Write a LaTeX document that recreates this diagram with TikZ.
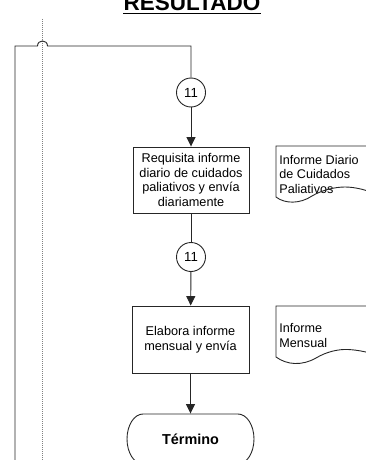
\documentclass[tikz,border=0pt]{standalone}
\usepackage{fontspec}
\setmainfont{Liberation Sans}
\usetikzlibrary{arrows.meta}
\begin{document}
\begin{tikzpicture}[x=1pt,y=-1pt, line width=0.9pt, color=black!85,
  every node/.style={text=black},
  box/.style={draw, minimum width=116pt, minimum height=66pt, inner sep=0pt, align=center, font=\fontsize{12.7}{14.6}\selectfont},
  conn/.style={draw, circle, minimum size=29pt, inner sep=0pt, font=\fontsize{13.2}{15}\selectfont},
  arr/.style={-{Triangle[length=9.5pt,width=9pt]}},
  doctext/.style={anchor=base west, align=left, inner sep=0pt, font=\fontsize{12.6}{14.6}\selectfont},
  docshape/.style={draw},
]
\useasboundingbox (0,0) rectangle (365,460);

% title
\node (title) [anchor=base, inner sep=0pt, font=\fontsize{22.5}{27}\selectfont\bfseries] at (192,10.5) {RESULTADO};
\draw[line width=1.5pt, black] ([yshift=-3pt]title.base west) -- ([yshift=-3pt]title.base east);

% dotted lane line
\draw[densely dotted, line width=1pt, gray] (42.7,19) -- (42.7,470);

% nodes
\node (c1) [conn] at (191,92.5) {11};
\node (b1) [box] at (191,180) {Requisita informe\\diario de cuidados\\paliativos y envía\\diariamente};
\node (c2) [conn] at (191,257) {11};
\node (b2) [box, minimum width=117pt, minimum height=67pt] at (190.5,339.5) {Elabora informe\\mensual y envía};
\node (term) [minimum width=127pt, minimum height=50pt, inner sep=0pt, font=\fontsize{14.4}{17}\selectfont\bfseries] at (190.5,439) {Término};
\draw (143,414) -- (238,414) .. controls (246.8,414) and (254,425.2) .. (254,439)
  .. controls (254,452.8) and (246.8,464) .. (238,464) -- (143,464)
  .. controls (134.2,464) and (127,452.8) .. (127,439)
  .. controls (127,425.2) and (134.2,414) .. (143,414) -- cycle;

% documents
\node (d1) [doctext] at (279,193.3) {Informe Diario\\de Cuidados\\Paliativos};
\draw[docshape] (380,146) -- (276,146) -- (276,197) .. controls (285,204) and (300,204) .. (312,196)
  .. controls (322,190) and (335,187) .. (345,187) .. controls (355,187) and (368,190) .. (380,196);
\node (d2) [doctext] at (279,347.3) {Informe\\Mensual};
\draw[docshape] (380,306) -- (276,306) -- (276,357) .. controls (287,365) and (302,366) .. (316,358)
  .. controls (326,352) and (338,349) .. (348,349.5) .. controls (358,350) and (368,352) .. (380,356);

% connectors
\coordinate (top) at (191,46);
\coordinate (lb) at (15,470);
\draw (lb) -- (15,46) -- (37.5,46) .. controls (37.5,39.3) and (47.5,39.3) .. (47.5,46) -- (top) -- (c1);
\draw[arr] (c1) -- (b1);
\draw (b1) -- (c2);
\draw[arr] (c2) -- (b2);
\draw[arr] (b2) -- (term.north);
\end{tikzpicture}
\end{document}
